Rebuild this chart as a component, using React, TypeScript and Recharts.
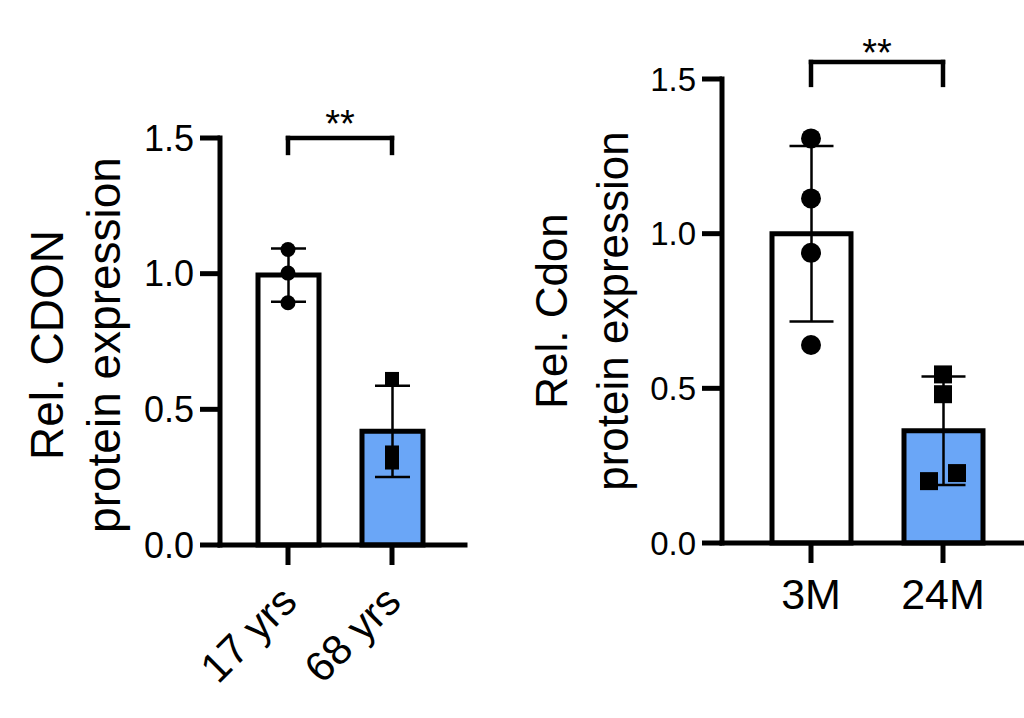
import * as React from "react";
import {
    ComposedChart,
    Bar,
    Cell,
    ErrorBar,
    Line,
    XAxis,
    YAxis,
    ReferenceLine,
} from "recharts";

// values
const humanGroups = ["17 yrs", "68 yrs"];
const humanPoints = [
    [1.089, 1.002, 0.893],
    [0.612, 0.341, 0.304],
];
const mouseGroups = ["3M", "24M"];
const mousePoints = [
    [1.308, 1.114, 0.938, 0.64],
    [0.545, 0.481, 0.2, 0.226],
];
const yTicks = [0, 0.5, 1, 1.5];
const barFills = ["#ffffff", "#6aa6f7"];
const symbols = ["circle", "square"];

const FONT = "'Liberation Sans', Arial, Helvetica, sans-serif";

const mean = (a: number[]) => a.reduce((s, v) => s + v, 0) / a.length;
const sd = (a: number[]) => {
    const m = mean(a);
    return Math.sqrt(a.reduce((s, v) => s + (v - m) ** 2, 0) / (a.length - 1));
};

function buildRows(groups: string[], points: number[][]) {
    return groups.map((g, i) => {
        const row: Record<string, any> = { group: g, mean: mean(points[i]), sd: sd(points[i]), pts: points[i] };
        points[i].forEach((v, k) => (row["p" + k] = v));
        return row;
    });
}

type PanelProps = {
    groups: string[];
    points: number[][];
    left: number;
    width: number;
    top: number;
    bottom: number;          // y of the x axis, page px
    axisX: number;           // x of the y axis, inside the chart
    right: number;           // chart margin right
    padL: number;
    padR: number;
    barSize: number;
    barStroke: number;
    capHalf: number;
    dotR: number;
    square: number;
    dodge: number;           // px shift for overlapping points
    dodgeWithin: number;     // value distance counted as overlap
    tickFont: number;
    labelFont: number;
    slanted: boolean;
    title: string[];
    titleX: number[];
    titleY: number;
    titleFont: number;
    bracketTop: number;
    bracketFoot: number;
    starOffset: number;
};

const YTitle = ({ lines, xs, cy, fontSize }: { lines: string[]; xs: number[]; cy: number; fontSize: number }) => (
    <g>
        {lines.map((t, i) => (
            <text
                key={t}
                transform={`translate(${xs[i]},${cy}) rotate(-90)`}
                textAnchor="middle"
                fontSize={fontSize}
                fontFamily={FONT}
                fill="#000"
            >
                {t}
            </text>
        ))}
    </g>
);

const SlantTick = (props: any) => {
    const { x, y, payload, fontSize } = props;
    const ax = x + 11;
    return (
        <text
            x={ax}
            y={y}
            transform={`rotate(-45 ${ax} ${y})`}
            textAnchor="end"
            fontSize={fontSize}
            fontFamily={FONT}
            fill="#000"
        >
            {payload.value}
        </text>
    );
};

function Panel(p: PanelProps) {
    const rows = buildRows(p.groups, p.points);
    const nPts = Math.max(...p.points.map((a) => a.length));
    const height = 718;

    const marker = (k: number) => (props: any) => {
        const { cx, cy, payload, index } = props;
        if (cx == null || cy == null || payload["p" + k] == null) return <g key={`m${k}-${index}`} />;
        const v = payload["p" + k];
        let shift = 0;
        payload.pts.forEach((w: number, j: number) => {
            if (j !== k && Math.abs(w - v) < p.dodgeWithin) shift = (v < w ? -1 : 1) * p.dodge;
        });
        const x = cx + shift;
        if (symbols[index] === "circle") {
            return <circle key={`m${k}-${index}`} cx={x} cy={cy} r={p.dotR} fill="#000" />;
        }
        const s = p.square;
        return <rect key={`m${k}-${index}`} x={x - s / 2} y={cy - s / 2} width={s} height={s} fill="#000" />;
    };

    const [g0, g1] = p.groups;
    const bracketStyle = { stroke: "#000", strokeWidth: 4.5, strokeLinecap: "square" as const };

    return (
        <div style={{ position: "absolute", left: p.left, top: 0 }}>
            <ComposedChart
                width={p.width}
                height={height}
                data={rows}
                margin={{ top: p.top, right: p.right, bottom: 0, left: 0 }}
            >
                <XAxis
                    dataKey="group"
                    type="category"
                    allowDuplicatedCategory={false}
                    height={height - p.bottom}
                    padding={{ left: p.padL, right: p.padR }}
                    axisLine={{ stroke: "#000", strokeWidth: 5, strokeLinecap: "square" }}
                    tickLine={{ stroke: "#000", strokeWidth: 5 }}
                    tickSize={20}
                    tickMargin={p.slanted ? 39 : 15}
                    interval={0}
                    tick={
                        p.slanted ? (
                            <SlantTick fontSize={p.labelFont} />
                        ) : (
                            { fontSize: p.labelFont, fill: "#000", fontFamily: FONT }
                        )
                    }
                />
                <YAxis
                    type="number"
                    domain={[0, 1.5]}
                    ticks={yTicks}
                    width={p.axisX}
                    tickFormatter={(v: number) => v.toFixed(1)}
                    axisLine={{ stroke: "#000", strokeWidth: 5, strokeLinecap: "square" }}
                    tickLine={{ stroke: "#000", strokeWidth: 5 }}
                    tickSize={20}
                    tickMargin={6}
                    tick={{ fontSize: p.tickFont, fill: "#000", fontFamily: FONT }}
                    label={<YTitle lines={p.title} xs={p.titleX} cy={p.titleY} fontSize={p.titleFont} />}
                />
                <Bar
                    dataKey="mean"
                    barSize={p.barSize}
                    stroke="#000"
                    strokeWidth={p.barStroke}
                    isAnimationActive={false}
                >
                    {rows.map((r, i) => (
                        <Cell key={r.group} fill={barFills[i]} />
                    ))}
                    <ErrorBar dataKey="sd" width={p.capHalf} stroke="#000" strokeWidth={2.5} />
                </Bar>
                {Array.from({ length: nPts }, (_, k) => (
                    <Line
                        key={"p" + k}
                        dataKey={"p" + k}
                        stroke="none"
                        dot={marker(k)}
                        activeDot={false}
                        legendType="none"
                        isAnimationActive={false}
                    />
                ))}
                <ReferenceLine
                    segment={[{ x: g0, y: p.bracketTop }, { x: g1, y: p.bracketTop }]}
                    ifOverflow="visible"
                    {...bracketStyle}
                    label={{ value: "**", position: "top", offset: p.starOffset, fontSize: 38, fill: "#000", fontFamily: FONT }}
                />
                <ReferenceLine
                    segment={[{ x: g0, y: p.bracketTop }, { x: g0, y: p.bracketFoot }]}
                    ifOverflow="visible"
                    {...bracketStyle}
                />
                <ReferenceLine
                    segment={[{ x: g1, y: p.bracketTop }, { x: g1, y: p.bracketFoot }]}
                    ifOverflow="visible"
                    {...bracketStyle}
                />
            </ComposedChart>
        </div>
    );
}

export default function App() {
    return (
        <div style={{ position: "absolute", left: 0, top: 0, width: 1024, height: 718, background: "#fff" }}>
            <Panel
                groups={humanGroups}
                points={humanPoints}
                left={0}
                width={500}
                top={138}
                bottom={545}
                axisX={220}
                right={35}
                padL={16}
                padR={21}
                barSize={61}
                barStroke={5}
                capHalf={17.5}
                dotR={7.5}
                square={14}
                dodge={0}
                dodgeWithin={0}
                tickFont={36}
                labelFont={42}
                slanted
                title={["Rel. CDON", "protein expression"]}
                titleX={[63, 120]}
                titleY={345}
                titleFont={46}
                bracketTop={1.5}
                bracketFoot={1.445}
                starOffset={1}
            />
            <Panel
                groups={mouseGroups}
                points={mousePoints}
                left={500}
                width={524}
                top={79}
                bottom={543}
                axisX={222}
                right={2}
                padL={23}
                padR={13}
                barSize={79}
                barStroke={5}
                capHalf={22}
                dotR={10}
                square={18}
                dodge={14}
                dodgeWithin={0.03}
                tickFont={33}
                labelFont={43}
                slanted={false}
                title={["Rel. Cdon", "protein expression"]}
                titleX={[67, 128]}
                titleY={311}
                titleFont={44}
                bracketTop={1.555}
                bracketFoot={1.481}
                starOffset={-4}
            />
        </div>
    );
}
